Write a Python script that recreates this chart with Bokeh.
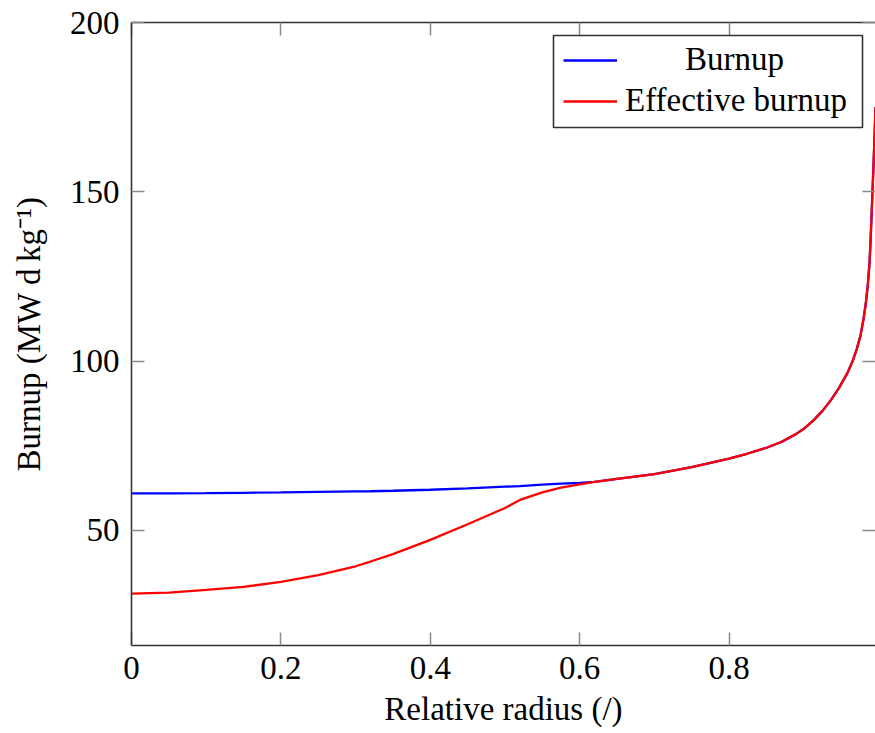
from bokeh.plotting import figure
from bokeh.models import (LinearAxis, FixedTicker, Legend, LegendItem,
                          BoxAnnotation, Range1d)
from bokeh.embed import file_html
from bokeh.resources import INLINE

# ---------------- data ----------------
radius = [0.0, 0.05, 0.1, 0.15, 0.2, 0.25, 0.3, 0.32, 0.35, 0.4, 0.45, 0.5,
          0.52, 0.55, 0.575, 0.6, 0.62, 0.65, 0.7, 0.75, 0.8, 0.825, 0.85,
          0.87, 0.89, 0.9, 0.913, 0.925, 0.936, 0.947, 0.958, 0.965, 0.971,
          0.976, 0.98, 0.983, 0.9857, 0.988, 0.9893, 0.9915, 0.9937, 0.995,
          0.996]
burnup = [60.9, 60.95, 61.0, 61.1, 61.2, 61.35, 61.5, 61.55, 61.7, 62.0, 62.4,
          62.9, 63.1, 63.5, 63.8, 64.0, 64.3, 65.2, 66.6, 68.7, 71.2, 72.7,
          74.4, 76.1, 78.5, 80.0, 82.5, 85.3, 88.4, 92.0, 96.3, 99.8, 103.6,
          107.6, 112.5, 117.0, 122.5, 129.0, 135.0, 147.4, 160.0, 168.0, 175.0]
effective_burnup = [31.3, 31.6, 32.4, 33.3, 34.8, 36.8, 39.4, 40.8, 43.0, 47.2,
                    51.8, 56.6, 59.0, 61.2, 62.6, 63.6, 64.3, 65.2, 66.6, 68.7,
                    71.2, 72.7, 74.4, 76.1, 78.5, 80.0, 82.5, 85.3, 88.4, 92.0,
                    96.3, 99.8, 103.6, 107.6, 112.5, 117.0, 122.5, 129.0, 135.0,
                    147.4, 160.0, 168.0, 175.0]
series_labels = ["Burnup", "Effective burnup"]
x_ticks = [0, 0.2, 0.4, 0.6, 0.8, 1]
x_tick_labels = ["0", "0.2", "0.4", "0.6", "0.8", "1"]
y_ticks = [50, 100, 150, 200]
y_tick_labels = ["50", "100", "150", "200"]
x_title = "Relative radius (/)"
y_title = "Burnup (MW d\u2009kg\u207b\u00b9)"

# ---------------- layout / style ----------------
FONT = "Liberation Serif"
FS = "33px"
AXIS_COLOR = "#333333"
TICK_COLOR = "#8a8a8a"

X_MIN, X_MAX = 0.0, 0.996
Y_MIN, Y_MAX = 16.0, 200.0
FRAME_L, FRAME_T, FRAME_W, FRAME_H = 131, 22, 744, 623

p = figure(width=875, height=733, output_backend="svg", toolbar_location=None,
           x_range=Range1d(X_MIN, X_MAX), y_range=Range1d(Y_MIN, Y_MAX),
           min_border_left=FRAME_L, min_border_right=0, min_border_top=FRAME_T,
           min_border_bottom=733 - FRAME_T - FRAME_H,
           x_axis_label=x_title, y_axis_label=y_title)
p.outline_line_color = None
p.grid.visible = False
p.background_fill_color = "white"
p.border_fill_color = "white"

bottom_axis = p.below[0]
left_axis = p.left[0]
top_axis = LinearAxis()
right_axis = LinearAxis()
p.add_layout(top_axis, "above")
p.add_layout(right_axis, "right")

x_over = dict(zip(x_ticks, x_tick_labels))
y_over = dict(zip(y_ticks, y_tick_labels))

for ax in [bottom_axis, top_axis]:
    ax.ticker = FixedTicker(ticks=x_ticks)
    ax.major_label_overrides = x_over
for ax in [left_axis, right_axis]:
    ax.ticker = FixedTicker(ticks=y_ticks)
    ax.major_label_overrides = y_over

for ax in [bottom_axis, left_axis, top_axis, right_axis]:
    ax.major_tick_in = 13
    ax.major_tick_out = 0
    ax.minor_tick_line_color = None
    ax.major_tick_line_color = TICK_COLOR
    ax.major_tick_line_width = 1.5
    ax.axis_line_color = AXIS_COLOR
    ax.axis_line_width = 1.6
    ax.major_label_text_font = FONT
    ax.major_label_text_font_size = FS
    ax.major_label_text_color = "black"
    ax.axis_label_text_font = FONT
    ax.axis_label_text_font_size = FS
    ax.axis_label_text_font_style = "normal"
    ax.axis_label_text_color = "black"

# mirrored tick marks only (no labels) on top and right
for ax in [top_axis, right_axis]:
    ax.major_label_text_font_size = "1px"
    ax.major_label_text_color = None
    ax.major_label_standoff = 0
right_axis.axis_line_color = None

bottom_axis.major_label_standoff = 11
bottom_axis.axis_label_standoff = 9
left_axis.major_label_standoff = 12
left_axis.axis_label_standoff = 20

r_b = p.line(radius, burnup, line_color="#0000ff", line_width=2.3)
r_e = p.line(radius, effective_burnup, line_color="#ff0000", line_width=2.3)

common = dict(margin=0, padding=7, spacing=5, glyph_width=54, glyph_height=36,
              label_height=36, label_text_font=FONT, label_text_font_size=FS,
              label_text_color="black", border_line_alpha=0,
              background_fill_alpha=0)
legend_a = Legend(items=[LegendItem(label=series_labels[0], renderers=[r_b])],
                  location=(425, 560), label_standoff=68, **common)
legend_b = Legend(items=[LegendItem(label=series_labels[1], renderers=[r_e])],
                  location=(425, 519), label_standoff=8, **common)
p.add_layout(legend_a)
p.add_layout(legend_b)

# legend frame (canvas pixels -> data units)
def px_to_x(px):
    return X_MIN + (px - FRAME_L) / FRAME_W * (X_MAX - X_MIN)

def px_to_y(py):
    return Y_MAX - (py - FRAME_T) / FRAME_H * (Y_MAX - Y_MIN)

p.add_layout(BoxAnnotation(left=px_to_x(553), right=px_to_x(862),
                           top=px_to_y(35), bottom=px_to_y(127),
                           fill_alpha=0, line_color=AXIS_COLOR,
                           line_width=1.6, line_alpha=1))

with open("out.html", "w") as f:
    f.write(file_html(p, INLINE))
